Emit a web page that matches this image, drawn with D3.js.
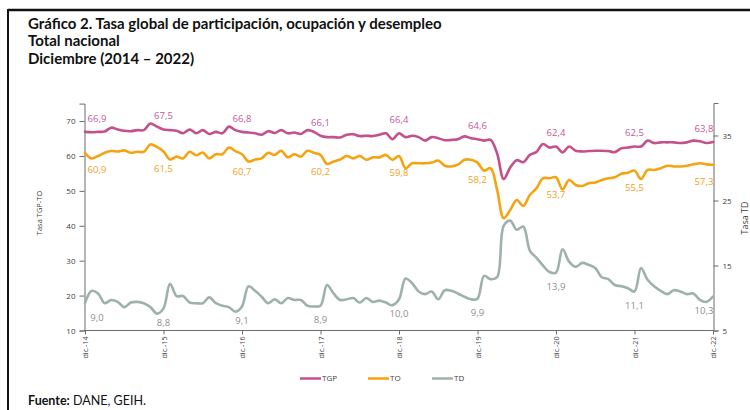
<!DOCTYPE html>
<html><head><meta charset="utf-8">
<script src="https://cdn.jsdelivr.net/npm/d3@7"></script>
<style>
body{margin:0;background:#fff;}
svg{display:block;}
</style></head>
<body>
<svg id="chart" width="750" height="410"></svg>
<script>
// ---- Data (monthly, dic.-14 .. dic.-22) ----
const tickLabels = ["dic.-14","dic.-15","dic.-16","dic.-17","dic.-18","dic.-19","dic.-20","dic.-21","dic.-22"];
const seriesNames = ["TGP","TO","TD"];
const tgp = [66.9,66.8,66.9,67.0,68.1,67.6,67.2,67.1,67.4,67.4,69.3,68.4,
 67.6,67.4,67.2,66.5,67.6,66.5,67.4,66.3,66.9,66.5,68.4,67.4,
 66.9,66.7,66.5,66.1,67.1,66.6,67.4,66.5,66.7,66.3,67.4,66.9,
 65.8,65.4,65.4,65.3,66.1,66.2,65.7,65.8,65.7,66.1,66.5,64.8,
 66.5,65.4,65.8,65.4,64.4,65.4,65.1,64.5,64.6,64.8,65.6,65.1,
 64.8,64.4,64.6,60.7,53.4,56.7,58.8,58.2,60.3,61.1,63.4,62.4,
 62.7,61.0,62.7,61.5,61.3,61.4,61.5,61.5,61.4,61.1,62.2,62.4,
 62.7,62.7,64.4,63.7,63.9,63.9,63.9,63.7,63.9,64.4,64.2,63.7,
 64.0];
const to = [60.8,59.3,60.0,60.9,61.4,61.3,61.6,60.9,61.2,61.2,63.3,62.6,
 61.3,59.0,59.8,59.3,61.2,60.2,61.0,59.3,60.5,60.5,62.4,61.4,
 60.5,58.4,59.0,59.3,60.9,60.3,61.5,59.6,60.5,59.8,61.5,60.9,
 60.3,57.7,58.4,59.0,60.0,59.3,60.0,58.9,59.6,59.6,60.3,58.9,
 60.0,56.5,57.9,57.9,57.9,58.1,58.7,57.2,57.0,57.5,58.9,58.9,
 58.1,55.8,56.5,50.3,42.2,44.5,47.4,45.7,48.8,50.7,53.6,53.6,
 53.9,50.4,53.1,51.7,51.4,52.2,52.4,53.1,53.6,53.9,54.9,55.2,
 55.8,53.4,56.0,56.0,56.5,57.2,57.0,57.0,57.2,57.6,57.9,57.6,
 57.5];
const td = [9.2,11.1,10.7,9.2,9.7,9.4,8.6,9.3,9.4,9.2,8.6,7.6,
 8.4,12.2,10.3,10.3,9.3,9.2,9.2,10.1,9.2,8.8,8.6,7.9,
 8.7,11.8,11.1,10.2,9.2,9.8,9.2,10.0,9.7,9.7,8.8,8.7,
 8.8,12.0,10.7,9.7,9.8,10.0,9.3,10.0,9.4,9.6,9.3,8.9,
 9.8,13.0,12.3,11.0,10.6,11.0,9.8,11.2,11.1,10.7,10.2,9.8,
 9.9,13.4,12.9,13.2,21.1,21.9,20.5,21.0,17.3,16.2,15.0,14.0,
 13.9,17.5,15.6,14.8,15.4,15.1,14.6,13.2,12.9,12.0,11.8,11.5,
 11.0,14.6,12.8,11.8,11.1,10.6,11.2,11.0,10.6,10.7,9.7,9.4,
 10.2];
// December data labels (one per year)
const labelsTGP = ["66,9","67,5","66,8","66,1","66,4","64,6","62,4","62,5","63,8"];
const labelsTO  = ["60,9","61,5","60,7","60,2","59,8","58,2","53,7","55,5","57,3"];
const labelsTD  = ["9,0","8,8","9,1","8,9","10,0","9,9","13,9","11,1","10,3"];
const leftTicks = [10,20,30,40,50,60,70];
const rightTicks = [5,15,25,35];

// ---- Drawing ----
const svg = d3.select("#chart");
const font = "'Open Sans', 'Noto Sans', sans-serif";
const colors = {TGP:"#c4508c", TO:"#f6a312", TD:"#9fb1ad"};
const labelColors = {TGP:"#c4589a", TO:"#f2a124", TD:"#8f8f8f"};

// frame
svg.append("line").attr("x1",8).attr("x2",750).attr("y1",10).attr("y2",10).attr("stroke","#111").attr("stroke-width",2.5);
svg.append("line").attr("x1",8).attr("x2",8).attr("y1",9).attr("y2",410).attr("stroke","#111").attr("stroke-width",2);

// titles
const titles = ["Gráfico 2. Tasa global de participación, ocupación y desempleo","Total nacional","Diciembre (2014 – 2022)"];
svg.selectAll("text.title").data(titles).join("text").attr("class","title")
  .attr("x",28).attr("y",(d,i)=>29+i*17.3)
  .attr("font-family","Lato, 'Open Sans', sans-serif").attr("font-weight","bold").attr("font-size",15).attr("fill","#111")
  .text(d=>d);

const src = svg.append("text").attr("x",28).attr("y",405).attr("font-family","Lato, 'Open Sans', sans-serif").attr("font-size",12.5).attr("fill","#111");
src.append("tspan").attr("font-weight","bold").text("Fuente:");
src.append("tspan").text(" DANE, GEIH.");

const n = tgp.length;
const x = d3.scaleLinear().domain([0, n-1]).range([85, 713]);
const yL = d3.scaleLinear().domain([10, 75]).range([330.5, 103.6]);
const yR = d3.scaleLinear().domain([5, 40]).range([330.5, 103]);

const axisColor = "#6b6b6b";
// left axis
const gL = svg.append("g").attr("transform","translate(84.5,0)")
  .call(d3.axisLeft(yL).tickValues(leftTicks).tickSize(5).tickPadding(4).tickFormat(d3.format("d")));
// right axis
const gR = svg.append("g").attr("transform","translate(713.5,0)")
  .call(d3.axisRight(yR).tickValues(rightTicks).tickSize(5).tickPadding(4).tickFormat(d3.format("d")));
// bottom axis
const gB = svg.append("g").attr("transform","translate(0,330.5)")
  .call(d3.axisBottom(x).tickValues(d3.range(0,n,12)).tickSize(4).tickFormat((d,i)=>tickLabels[i]));
[gL,gR,gB].forEach(g=>{
  g.select(".domain").attr("stroke",axisColor);
  g.selectAll(".tick line").attr("stroke",axisColor);
  g.selectAll("text").attr("font-family",font).attr("font-size",8).attr("fill","#404040");
});
gB.selectAll(".domain").attr("d","M84,0H713.5");
gB.selectAll(".tick text").attr("font-size",7.2)
  .attr("transform","rotate(-90)").attr("text-anchor","end").attr("x",-6).attr("y",0).attr("dy","0.35em");

// axis titles
svg.append("text").attr("transform","translate(42,213) rotate(-90)").attr("text-anchor","middle")
  .attr("font-family",font).attr("font-size",7.5).attr("fill","#404040").text("Tasa TGP-TO");
svg.append("text").attr("transform","translate(748,218) rotate(-90)").attr("text-anchor","middle")
  .attr("font-family",font).attr("font-size",9).attr("fill","#404040").text("Tasa TD");

// lines
const curve = d3.curveCatmullRom.alpha(0.5);
const series = [
  {name:"TGP", values:tgp, y:yL, labels:labelsTGP, dy:-13.5},
  {name:"TO", values:to, y:yL, labels:labelsTO, dy:17},
  {name:"TD", values:td, y:yR, labels:labelsTD, dy:14}
];
series.slice().reverse().forEach(s=>{
  const line = d3.line().x((d,i)=>x(i)).y(d=>s.y(d)).curve(curve);
  svg.append("path").datum(s.values).attr("d",line).attr("fill","none")
    .attr("stroke",colors[s.name]).attr("stroke-width",2.6).attr("stroke-linejoin","round").attr("stroke-linecap","round");
});
// data labels at each December
series.forEach(s=>{
  svg.selectAll(null).data(s.labels).join("text")
    .attr("x",(d,i)=>x(i*12) + (i===0?12:(i===s.labels.length-1?-9:0)))
    .attr("y",(d,i)=>s.y(s.values[i*12]) + s.dy)
    .attr("dy","0.35em").attr("text-anchor","middle")
    .attr("font-family",font).attr("font-size",9.5).attr("fill",labelColors[s.name])
    .text(d=>d);
});

// legend
const legX = [300, 368, 432];
seriesNames.forEach((nm,i)=>{
  const g = svg.append("g").attr("transform",`translate(${legX[i]},378.5)`);
  g.append("line").attr("x1",0).attr("x2",21).attr("stroke",colors[nm]).attr("stroke-width",2.5);
  g.append("text").attr("x",22).attr("dy","0.35em").attr("font-family",font).attr("font-size",8).attr("fill","#404040").text(nm);
});
</script>
</body></html>
